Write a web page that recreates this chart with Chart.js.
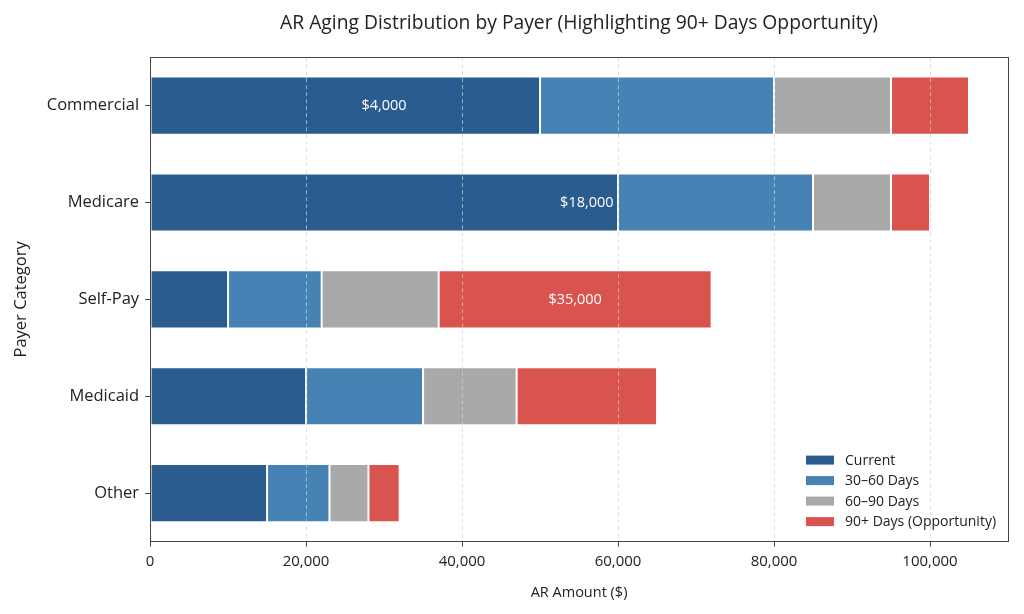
<!DOCTYPE html>
<html>
<head>
<meta charset="utf-8">
<script src="https://cdn.jsdelivr.net/npm/chart.js@4.4.0/dist/chart.umd.min.js"></script>
<style>
  html, body { margin: 0; padding: 0; background: #fff; }
  #wrap { width: 1024px; height: 614px; }
</style>
</head>
<body>
<div id="wrap"><canvas id="arChart" width="1024" height="614"></canvas></div>
<script>
const payers = ['Commercial', 'Medicare', 'Self-Pay', 'Medicaid', 'Other'];
const current = [50000, 60000, 10000, 20000, 15000];
const days30to60 = [30000, 25000, 12000, 15000, 8000];
const days60to90 = [15000, 10000, 15000, 12000, 5000];
const days90plus = [10000, 5000, 35000, 18000, 4000];
const xTicks = [0, 20000, 40000, 60000, 80000, 100000];

const seriesNames = ['Current', '30–60 Days', '60–90 Days', '90+ Days (Opportunity)'];
const seriesColors = ['#2b5c8f', '#4682b4', '#a9a9a9', '#d9534f'];
const FONT = "'Open Sans', 'DejaVu Sans', sans-serif";

// dashed grid on top of bars, frame, legend and 90+ labels
const overlay = {
  id: 'overlay',
  afterDatasetsDraw(chart) {
    const ctx = chart.ctx;
    const a = chart.chartArea;
    const xs = chart.scales.x;
    ctx.save();
    ctx.strokeStyle = 'rgba(210,210,210,0.7)';
    ctx.lineWidth = 1;
    ctx.setLineDash([4, 3]);
    xTicks.forEach(v => {
      if (v === 0) return;
      const x = Math.round(xs.getPixelForValue(v)) + 0.5;
      ctx.beginPath();
      ctx.moveTo(x, a.top);
      ctx.lineTo(x, a.bottom);
      ctx.stroke();
    });
    ctx.setLineDash([]);

    // labels for 90+ values (drawn in reversed row order, like the source)
    const meta = chart.getDatasetMeta(3);
    const n = payers.length;
    ctx.fillStyle = '#ffffff';
    ctx.font = '14.5px ' + FONT;
    ctx.textAlign = 'center';
    ctx.textBaseline = 'middle';
    [4, 3, 2].forEach(i => {
      const bar = meta.data[i];
      const row = chart.getDatasetMeta(0).data[n - 1 - i];
      const cx = (bar.x + bar.base) / 2;
      ctx.fillText('$' + days90plus[i].toLocaleString('en-US'), cx, row.y);
    });

    // frame
    ctx.strokeStyle = '#444';
    ctx.lineWidth = 1;
    ctx.strokeRect(Math.round(a.left) + 0.5, Math.round(a.top) + 0.5,
      Math.round(a.right - a.left), Math.round(a.bottom - a.top));

    // legend
    const lx = a.right - 202, ly = a.bottom - 82;
    ctx.textAlign = 'left';
    ctx.font = '14px ' + FONT;
    seriesNames.forEach((name, i) => {
      const y = ly + i * 20.5;
      ctx.fillStyle = seriesColors[i];
      ctx.fillRect(lx, y - 4, 28, 9);
      ctx.fillStyle = '#222';
      ctx.fillText(name, lx + 39, y + 1);
    });
    ctx.restore();
  }
};

new Chart(document.getElementById('arChart').getContext('2d'), {
  type: 'bar',
  data: {
    labels: payers,
    datasets: [current, days30to60, days60to90, days90plus].map((d, i) => ({
      label: seriesNames[i],
      data: d,
      backgroundColor: seriesColors[i],
      borderColor: '#ffffff',
      borderWidth: 1,
      borderSkipped: false,
      barPercentage: 0.6,
      categoryPercentage: 1.0
    }))
  },
  options: {
    indexAxis: 'y',
    responsive: false,
    animation: false,
    layout: { padding: { left: 11, right: 16, top: 4, bottom: 12 } },
    plugins: {
      legend: { display: false },
      tooltip: { enabled: false },
      title: {
        display: true,
        fullSize: false,
        text: 'AR Aging Distribution by Payer (Highlighting 90+ Days Opportunity)',
        color: '#222',
        font: { family: FONT, size: 19.3, weight: 'normal' },
        padding: { top: 8, bottom: 22 }
      }
    },
    scales: {
      x: {
        stacked: true,
        min: 0,
        max: 110000,
        afterBuildTicks: s => { s.ticks = xTicks.map(v => ({ value: v })); },
        ticks: {
          color: '#222',
          font: { family: FONT, size: 15 },
          padding: 6,
          maxRotation: 0,
          callback: v => v.toLocaleString('en-US')
        },
        grid: { drawOnChartArea: false, drawTicks: true, tickLength: 5, color: '#444' },
        border: { color: '#444' },
        title: {
          display: true,
          text: 'AR Amount ($)',
          color: '#222',
          font: { family: FONT, size: 14.5 },
          padding: { top: 8, bottom: 0 }
        }
      },
      y: {
        stacked: true,
        ticks: {
          color: '#222',
          font: { family: FONT, size: 16.5 },
          padding: 6
        },
        grid: { offset: false, drawOnChartArea: false, drawTicks: true, tickLength: 5, color: '#444' },
        border: { color: '#444' },
        title: {
          display: true,
          text: 'Payer Category',
          color: '#222',
          font: { family: FONT, size: 16.5 },
          padding: { top: 0, bottom: 10 }
        }
      }
    }
  },
  plugins: [overlay]
});
</script>
</body>
</html>
